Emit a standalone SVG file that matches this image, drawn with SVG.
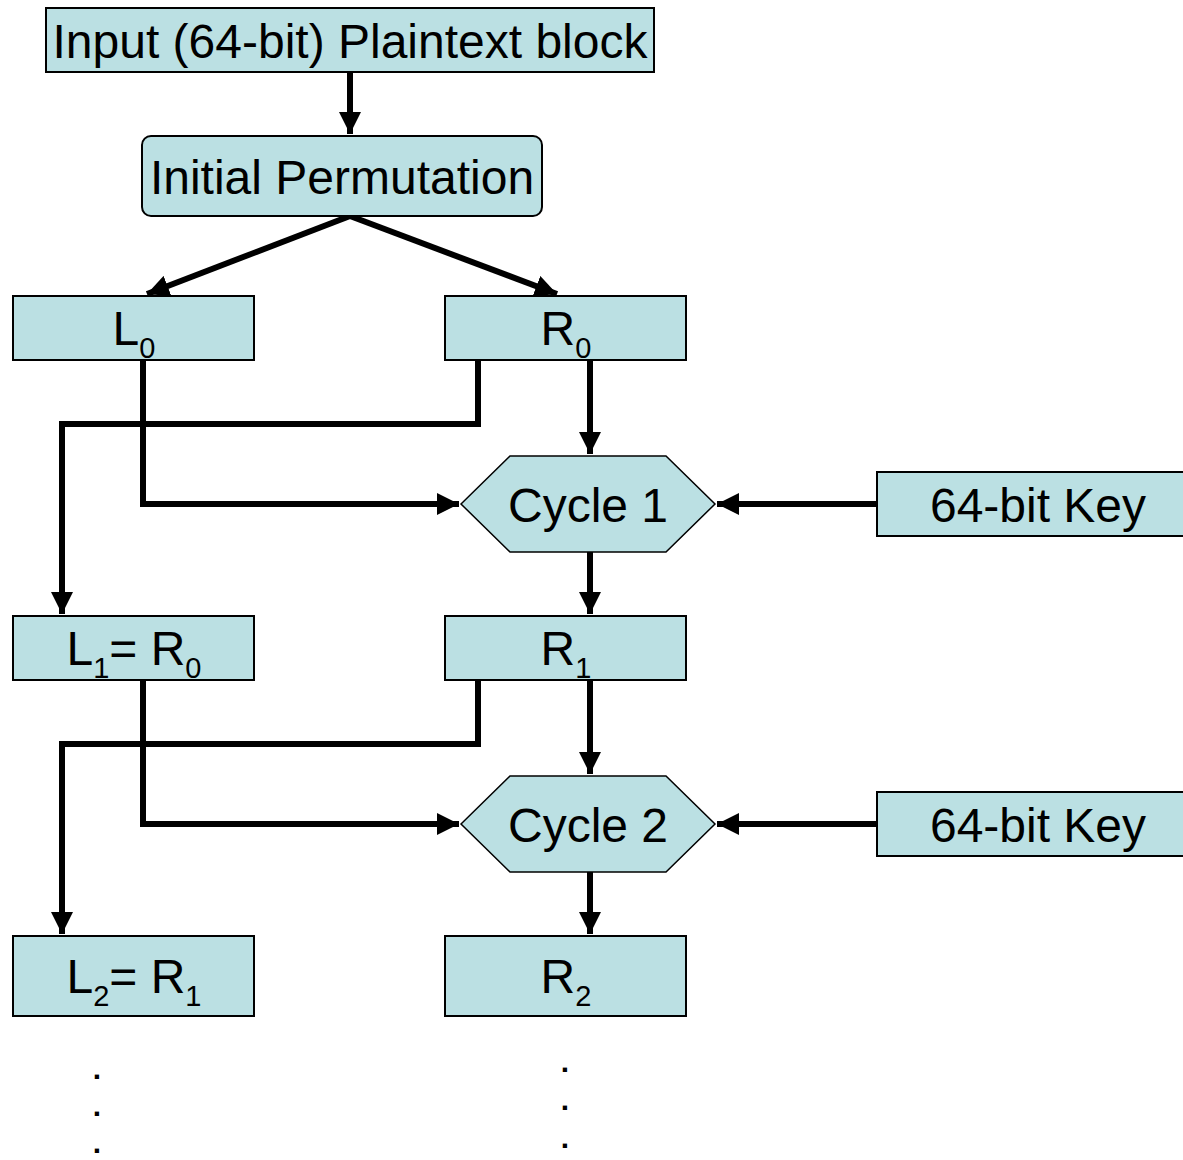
<svg xmlns="http://www.w3.org/2000/svg" width="1183" height="1160" viewBox="0 0 1183 1160">
<style>
.box{fill:#BBE0E3;stroke:#000;stroke-width:2}
.hex{fill:#BBE0E3;stroke:#000;stroke-width:1.5}
.t{font-family:"Liberation Sans",Arial,sans-serif;font-size:48px;fill:#000;text-anchor:middle}
.sub{font-size:29px}
.dot{font-family:"Liberation Sans",Arial,sans-serif;font-size:30px;font-weight:bold;fill:#000;text-anchor:middle}
.c{fill:none;stroke:#000;stroke-width:6;stroke-linejoin:miter}
</style>
<defs>
<marker id="ah" markerUnits="userSpaceOnUse" markerWidth="24" markerHeight="22" refX="22" refY="11" orient="auto">
<path d="M0,0 L22,11 L0,22 Z" fill="#000"/>
</marker>
</defs>
<g id="connectors">
<path class="c" d="M350,72 V134" marker-end="url(#ah)"/>
<path class="c" d="M350,216 L147,294" marker-end="url(#ah)"/>
<path class="c" d="M350,216 L557,294" marker-end="url(#ah)"/>
<path class="c" d="M143,360 V504 H459" marker-end="url(#ah)"/>
<path class="c" d="M478,360 V424 H62 V614" marker-end="url(#ah)"/>
<path class="c" d="M590,360 V454" marker-end="url(#ah)"/>
<path class="c" d="M877,504 H717" marker-end="url(#ah)"/>
<path class="c" d="M590,552 V614" marker-end="url(#ah)"/>
<path class="c" d="M143,680 V824 H459" marker-end="url(#ah)"/>
<path class="c" d="M478,680 V744 H62 V934" marker-end="url(#ah)"/>
<path class="c" d="M590,680 V774" marker-end="url(#ah)"/>
<path class="c" d="M877,824 H717" marker-end="url(#ah)"/>
<path class="c" d="M590,872 V934" marker-end="url(#ah)"/>
</g>
<g id="input">
<rect class="box" x="46" y="8" width="608" height="64"/>
<text class="t" x="350" y="58">Input (64-bit) Plaintext block</text>
</g>
<g id="ip">
<rect class="box" x="142" y="136" width="400" height="80" rx="9"/>
<text class="t" x="342" y="194">Initial Permutation</text>
</g>
<g id="L0">
<rect class="box" x="13" y="296" width="241" height="64"/>
<text class="t" x="134" y="345">L<tspan class="sub" dy="13">0</tspan></text>
</g>
<g id="R0">
<rect class="box" x="445" y="296" width="241" height="64"/>
<text class="t" x="566" y="345">R<tspan class="sub" dy="13">0</tspan></text>
</g>
<g id="cycle1">
<polygon class="hex" points="461,504 510,456 666,456 715,504 666,552 510,552"/>
<text class="t" x="588" y="522">Cycle 1</text>
</g>
<g id="key1">
<rect class="box" x="877" y="472" width="310" height="64"/>
<text class="t" x="1038" y="522">64-bit Key</text>
</g>
<g id="L1">
<rect class="box" x="13" y="616" width="241" height="64"/>
<text class="t" x="134" y="665">L<tspan class="sub" dy="13">1</tspan><tspan dy="-13">= R</tspan><tspan class="sub" dy="13">0</tspan></text>
</g>
<g id="R1">
<rect class="box" x="445" y="616" width="241" height="64"/>
<text class="t" x="566" y="665">R<tspan class="sub" dy="13">1</tspan></text>
</g>
<g id="cycle2">
<polygon class="hex" points="461,824 510,776 666,776 715,824 666,872 510,872"/>
<text class="t" x="588" y="842">Cycle 2</text>
</g>
<g id="key2">
<rect class="box" x="877" y="792" width="310" height="64"/>
<text class="t" x="1038" y="842">64-bit Key</text>
</g>
<g id="L2">
<rect class="box" x="13" y="936" width="241" height="80"/>
<text class="t" x="134" y="993">L<tspan class="sub" dy="13">2</tspan><tspan dy="-13">= R</tspan><tspan class="sub" dy="13">1</tspan></text>
</g>
<g id="R2">
<rect class="box" x="445" y="936" width="241" height="80"/>
<text class="t" x="566" y="993">R<tspan class="sub" dy="13">2</tspan></text>
</g>
<g id="dots">
<text class="dot" x="97" y="1079">.</text>
<text class="dot" x="97" y="1116">.</text>
<text class="dot" x="97" y="1153">.</text>
<text class="dot" x="565" y="1072">.</text>
<text class="dot" x="565" y="1110">.</text>
<text class="dot" x="565" y="1148">.</text>
</g>
</svg>
